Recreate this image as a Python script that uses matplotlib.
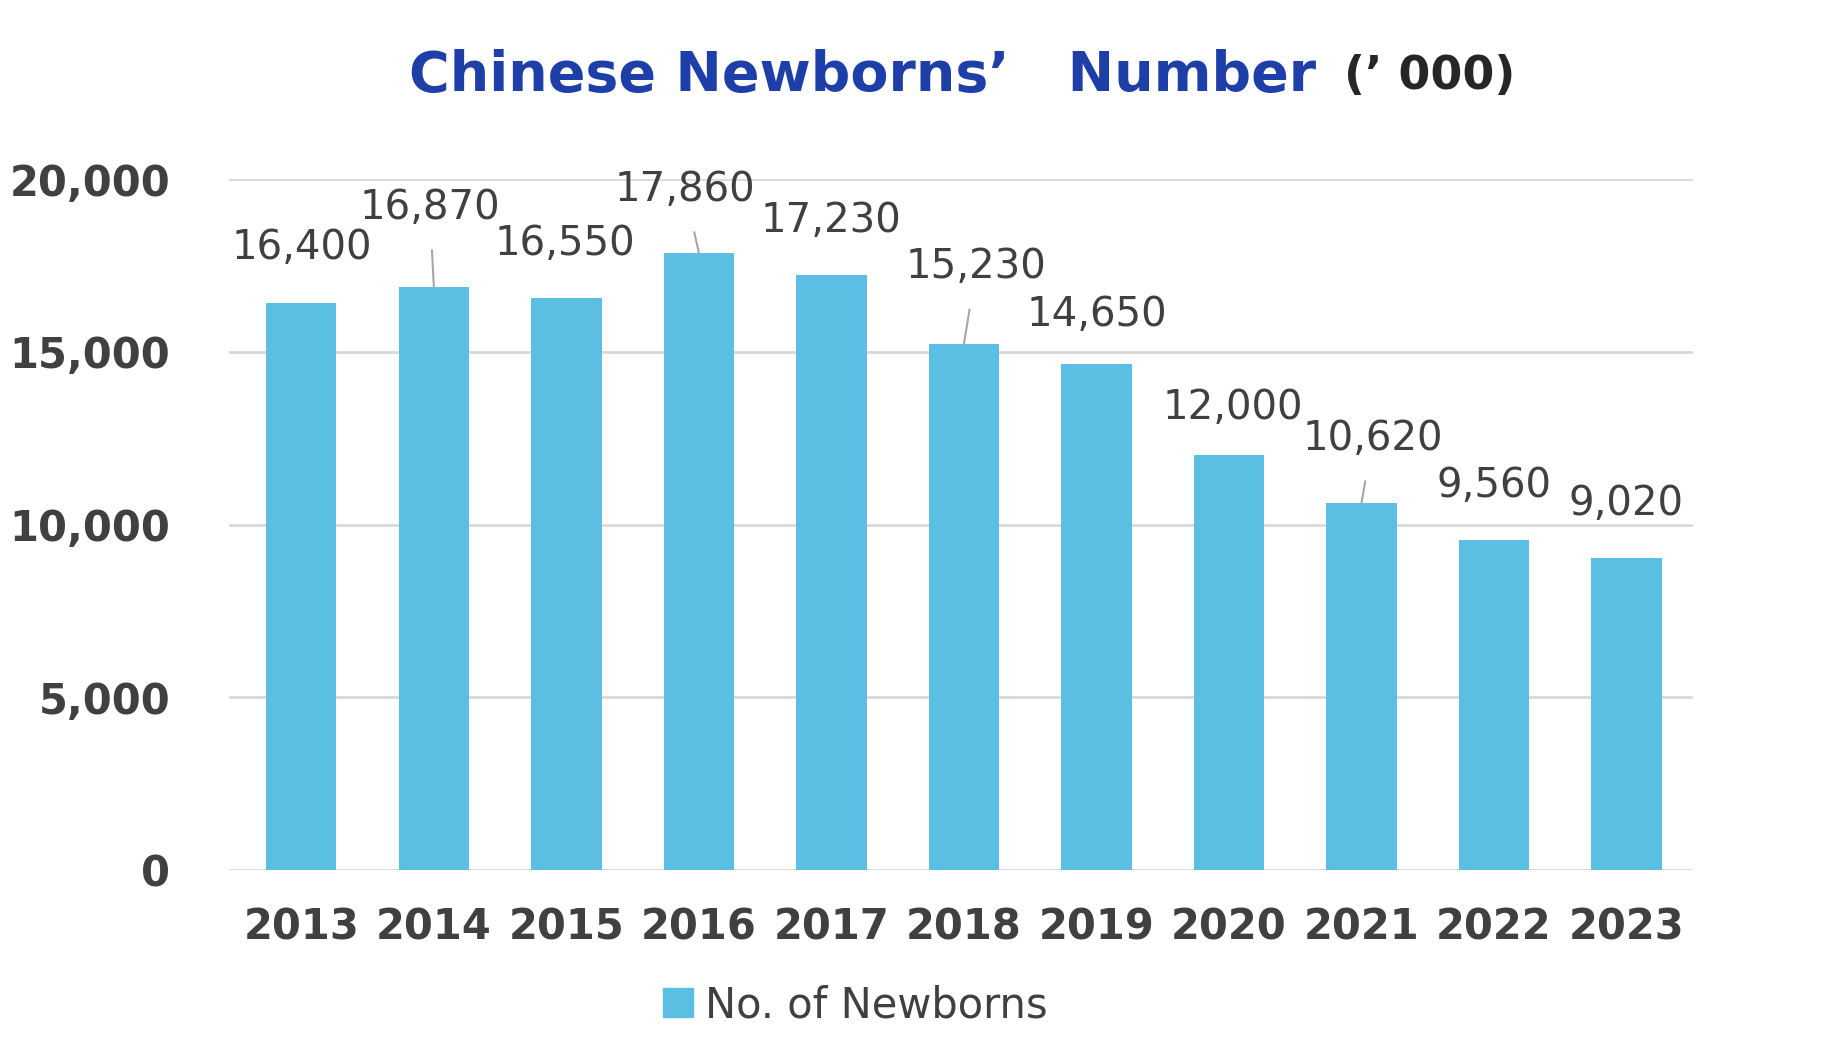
import matplotlib.pyplot as plt
from matplotlib.patches import Patch

years = ["2013", "2014", "2015", "2016", "2017", "2018", "2019", "2020", "2021", "2022", "2023"]
newborns = [16400, 16870, 16550, 17860, 17230, 15230, 14650, 12000, 10620, 9560, 9020]
# label offsets (points) relative to bar top, and whether a leader line is drawn
offsets = [(0, 40), (-3, 57), (-1, 39), (-10, 45), (0, 39), (9, 55), (0, 35), (3, 34), (8, 46), (0, 39), (0, 39)]
leaders = [False, True, False, True, False, True, False, False, True, False, False]

bar_color = "#5BBFE4"
tick_color = "#404040"

fig = plt.figure(figsize=(18.28, 10.47), dpi=100)
ax = fig.add_axes([0.125, 0.169, 0.801, 0.66])
x = range(len(years))
ax.bar(x, newborns, width=0.53, color=bar_color, zorder=3)

for i, v in enumerate(newborns):
    arrow = dict(arrowstyle="-", color="#A6A6A6", lw=1.5, shrinkA=14, shrinkB=0) if leaders[i] else None
    ax.annotate(f"{v:,}", xy=(i, v), xytext=offsets[i], textcoords="offset points",
                ha="center", va="center", fontsize=29, color="#404040", arrowprops=arrow, zorder=4)

ax.set_ylim(0, 20000)
ax.set_xlim(-0.55, len(years) - 0.5)
ax.set_yticks([0, 5000, 10000, 15000, 20000])
ax.set_yticklabels([f"{t:,}" for t in [0, 5000, 10000, 15000, 20000]])
ax.set_xticks(list(x))
ax.set_xticklabels(years)
ax.tick_params(axis="both", length=0, labelsize=30, colors=tick_color)
ax.tick_params(axis="x", pad=26)
ax.tick_params(axis="y", pad=42)
for lab in ax.get_xticklabels() + ax.get_yticklabels():
    lab.set_fontweight("bold")
ax.grid(axis="y", color="#D9D9D9", lw=2, zorder=0)
for s in ax.spines.values():
    s.set_visible(False)
ax.axhline(0, color="#D9D9D9", lw=2, zorder=2)

fig.text(0.72, 0.927, "Chinese Newborns’   Number", ha="right", va="center",
         fontsize=40, fontweight="bold", color="#1F3FA8")
fig.text(0.735, 0.927, "(’ 000)", ha="left", va="center", fontsize=33, fontweight="bold", color="#262626")

fig.legend(handles=[Patch(color=bar_color, label="No. of Newborns")], loc="center",
           bbox_to_anchor=(0.468, 0.04), frameon=False, fontsize=30, handlelength=0.7,
           handleheight=0.7, handletextpad=0.3, labelcolor="#404040")

fig.savefig("out.png", dpi=100)
